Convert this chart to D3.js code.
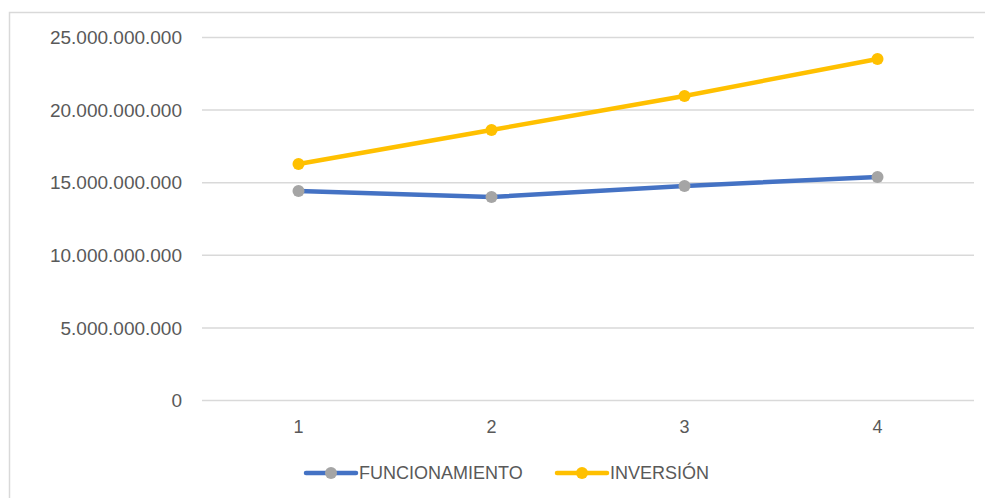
<!DOCTYPE html>
<html>
<head>
<meta charset="utf-8">
<script src="https://cdn.jsdelivr.net/npm/d3@7"></script>
<style>
  body { margin: 0; background: #fff; }
  text { font-family: "Liberation Sans", Arial, sans-serif; fill: #595959; }
</style>
</head>
<body>
<svg id="chart" width="985" height="498"></svg>
<script>
// datos
const categories = ["1", "2", "3", "4"];
const funcionamiento = [14390000000, 13980000000, 14740000000, 15360000000];
const inversion = [16250000000, 18600000000, 20940000000, 23490000000];
const yTicks = [0, 5000000000, 10000000000, 15000000000, 20000000000, 25000000000];
const seriesNames = ["FUNCIONAMIENTO", "INVERSIÓN"];

const svg = d3.select("#chart");
const width = +svg.attr("width");
const height = +svg.attr("height");

// borde del área del gráfico
svg.append("rect")
    .attr("x", 9.5)
    .attr("y", 12.5)
    .attr("width", 1000)
    .attr("height", 500)
    .attr("fill", "none")
    .attr("stroke", "#d9d9d9")
    .attr("stroke-width", 1.5);

const margin = { left: 202, right: 11, top: 37, bottom: 98 };

const x = d3.scaleBand()
    .domain(categories)
    .range([margin.left, width - margin.right]);

const y = d3.scaleLinear()
    .domain([0, 25000000000])
    .range([height - margin.bottom, margin.top]);

const fmt = v => d3.format(",")(v).replace(/,/g, ".");

// líneas de cuadrícula
const grid = svg.append("g")
    .attr("transform", `translate(${margin.left},0)`)
    .call(d3.axisLeft(y).tickValues(yTicks).tickSize(-(width - margin.left - margin.right)).tickFormat(""));
grid.select(".domain").remove();
grid.selectAll(".tick line").attr("stroke", "#d9d9d9").attr("stroke-width", 1.5);

// eje Y
const yAxis = svg.append("g")
    .attr("transform", `translate(${margin.left - 20},0)`)
    .call(d3.axisLeft(y).tickValues(yTicks).tickSize(0).tickPadding(0).tickFormat(fmt));
yAxis.select(".domain").remove();
yAxis.selectAll("text")
    .style("font-size", "19px")
    .style("fill", "#595959")
    .attr("dy", "0.35em");

// eje X
const xAxis = svg.append("g")
    .attr("transform", `translate(0,${height - margin.bottom})`)
    .call(d3.axisBottom(x).tickSize(0).tickPadding(20));
xAxis.select(".domain").remove();
xAxis.selectAll("text")
    .style("font-size", "18px")
    .style("fill", "#595959");

const line = d3.line()
    .x((d, i) => x(categories[i]) + x.bandwidth() / 2)
    .y(d => y(d));

const series = [
    { name: seriesNames[0], values: funcionamiento, stroke: "#4472c4", marker: "#a5a5a5" },
    { name: seriesNames[1], values: inversion, stroke: "#ffc000", marker: "#ffc000" }
];

series.forEach(s => {
    svg.append("path")
        .datum(s.values)
        .attr("fill", "none")
        .attr("stroke", s.stroke)
        .attr("stroke-width", 4.5)
        .attr("stroke-linejoin", "round")
        .attr("d", line);

    svg.append("g")
        .selectAll("circle")
        .data(s.values)
        .enter().append("circle")
        .attr("cx", (d, i) => x(categories[i]) + x.bandwidth() / 2)
        .attr("cy", d => y(d))
        .attr("r", 6)
        .attr("fill", s.marker);
});

// leyenda
const legendX = [306, 557];
const legend = svg.append("g")
    .selectAll("g")
    .data(series)
    .enter().append("g")
    .attr("transform", (d, i) => `translate(${legendX[i]},473)`);

legend.append("line")
    .attr("x1", 0).attr("x2", 50)
    .attr("stroke", d => d.stroke)
    .attr("stroke-width", 4.5)
    .attr("stroke-linecap", "round");

legend.append("circle")
    .attr("cx", 25)
    .attr("r", 6)
    .attr("fill", d => d.marker);

legend.append("text")
    .attr("x", 53)
    .attr("dy", "0.35em")
    .style("font-size", "18px")
    .text(d => d.name);
</script>
</body>
</html>
